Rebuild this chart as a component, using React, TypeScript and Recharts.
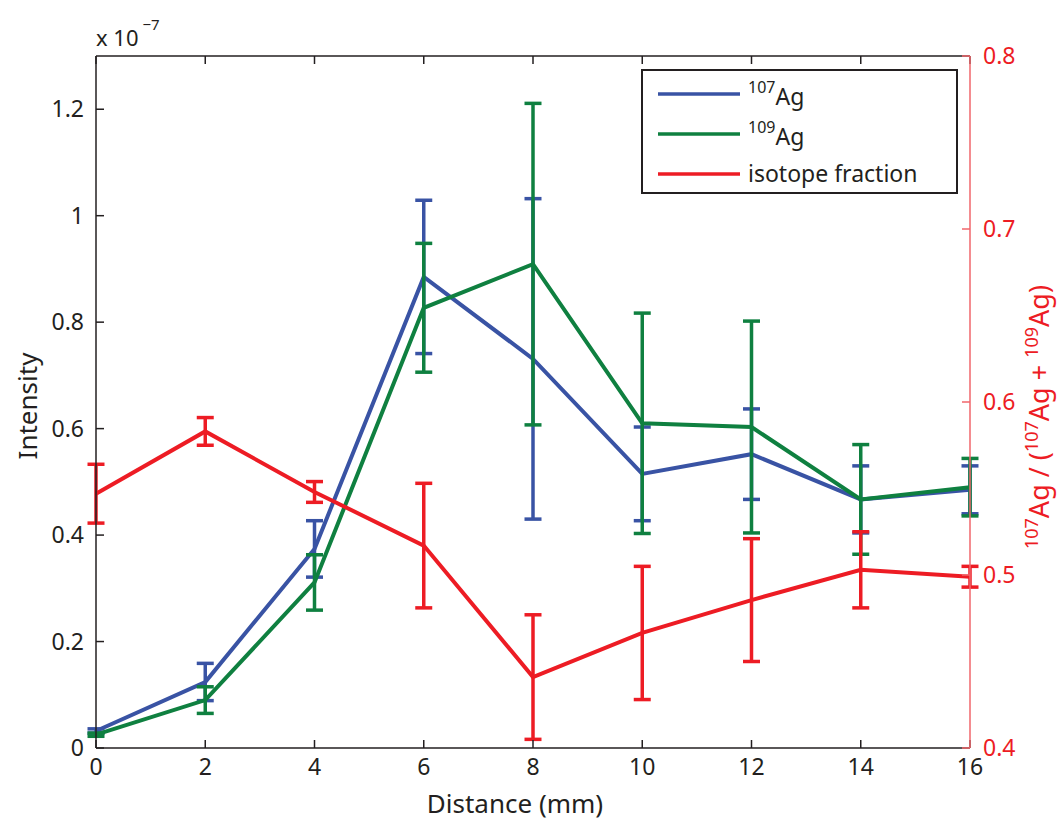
import React from 'react';
import {
  ComposedChart,
  XAxis,
  YAxis,
  Line,
  ErrorBar,
  Label,
} from 'recharts';

// Silver isotope intensities along the sample, with the 107Ag fraction on a second axis
const distance = [0, 2, 4, 6, 8, 10, 12, 14, 16];
const ag107 = [0.032, 0.124, 0.374, 0.885, 0.731, 0.515, 0.552, 0.467, 0.485];
const ag107Err = [0.004, 0.035, 0.053, 0.144, 0.301, 0.088, 0.085, 0.063, 0.045];
const ag109 = [0.025, 0.09, 0.311, 0.827, 0.909, 0.61, 0.603, 0.467, 0.49];
const ag109Err = [0.003, 0.025, 0.052, 0.121, 0.302, 0.207, 0.199, 0.103, 0.054];
const fraction = [0.547, 0.583, 0.548, 0.517, 0.441, 0.4665, 0.4855, 0.503, 0.499];
const fractionErr = [0.017, 0.008, 0.006, 0.036, 0.036, 0.0385, 0.0355, 0.022, 0.006];

const xTicks = [0, 2, 4, 6, 8, 10, 12, 14, 16];
const intensityTicks = [0, 0.2, 0.4, 0.6, 0.8, 1, 1.2];
const fractionTicks = [0.4, 0.5, 0.6, 0.7, 0.8];

const data = distance.map((d, i) => ({
  distance: d,
  ag107: ag107[i],
  ag107Err: ag107Err[i],
  ag109: ag109[i],
  ag109Err: ag109Err[i],
  fraction: fraction[i],
  fractionErr: fractionErr[i],
}));

const FONT = '"Noto Sans", "Open Sans", sans-serif';
const INK = '#231F20';
const BLUE = '#3953A4';
const GREEN = '#0F8040';
const RED = '#ED1C24';
const RED_AXIS = '#F0666B';

const legendRows = [
  { color: BLUE, sup: '107', text: 'Ag' },
  { color: GREEN, sup: '109', text: 'Ag' },
  { color: RED, sup: '', text: 'isotope fraction' },
];

// legend box drawn in svg so it does not take space from the plot
const renderLegend = () => (
  <g fontFamily={FONT}>
    <rect x={642} y={70} width={315} height={123} fill="#fff" stroke={INK} strokeWidth={2} />
    {legendRows.map((r, i) => {
      const y = 94 + i * 40;
      return (
        <g key={r.color}>
          <line x1={658} x2={740} y1={y} y2={y} stroke={r.color} strokeWidth={3.5} />
          {r.sup ? (
            <text x={748} y={y + 11} fill={INK} fontSize={23}>
              <tspan fontSize={16} dy={-12}>{r.sup}</tspan>
              <tspan dy={12}>{r.text}</tspan>
            </text>
          ) : (
            <text x={748} y={y + 8} fill={INK} fontSize={23}>
              {r.text}
            </text>
          )}
        </g>
      );
    })}
  </g>
);

const noTick = () => <g />;

// right axis: labels outside, tick marks pointing into the plot
const RIGHT_MARGIN = 13;
const renderRightTick = (p: any) => (
  <g>
    <line
      x1={p.x - RIGHT_MARGIN}
      x2={p.x - RIGHT_MARGIN - 8}
      y1={p.y}
      y2={p.y}
      stroke={RED_AXIS}
      strokeWidth={1.5}
    />
    <text x={p.x} y={p.y} dy="0.355em" textAnchor="start" fill={RED} fontSize={23} fontFamily={FONT}>
      {Number(p.payload.value).toFixed(1)}
    </text>
  </g>
);

export default function App() {
  return (
    <div style={{ position: 'absolute', left: 0, top: 0, background: '#fff' }}>
      <ComposedChart
        width={1060}
        height={820}
        data={data}
        margin={{ top: 55, right: 0, bottom: 0, left: 0 }}
      >
        <XAxis
          dataKey="distance"
          type="number"
          domain={[0, 16]}
          ticks={xTicks}
          stroke={INK}
          strokeWidth={1.5}
          tickSize={-8}
          tickMargin={19}
          height={72}
          tick={{ fill: INK, fontSize: 23, fontFamily: FONT }}
        >
          <Label
            content={() => (
              <text x={515} y={813} textAnchor="middle" fill={INK} fontSize={26} fontFamily={FONT}>
                Distance (mm)
              </text>
            )}
          />
        </XAxis>
        <XAxis
          xAxisId="top"
          dataKey="distance"
          type="number"
          orientation="top"
          domain={[0, 16]}
          ticks={xTicks}
          stroke={INK}
          strokeWidth={1.5}
          tickSize={-8}
          height={1}
          tick={noTick}
        >
          <Label content={renderLegend} />
        </XAxis>
        <YAxis
          yAxisId="left"
          domain={[0, 1.3]}
          ticks={intensityTicks}
          width={96}
          stroke={INK}
          strokeWidth={1.5}
          tickSize={-8}
          tickMargin={20}
          tickFormatter={(v: number) => String(Math.round(v * 10) / 10)}
          tick={{ fill: INK, fontSize: 23, fontFamily: FONT }}
        >
          <Label
            content={() => (
              <text
                x={37}
                y={406}
                transform="rotate(-90 37 406)"
                textAnchor="middle"
                fill={INK}
                fontSize={26}
                fontFamily={FONT}
              >
                Intensity
              </text>
            )}
          />
          <Label
            content={() => (
              <text x={96} y={46} fill={INK} fontSize={22} fontFamily={FONT}>
                x 10
                <tspan fontSize={15} dx={4} dy={-16}>
                  −7
                </tspan>
              </text>
            )}
          />
        </YAxis>
        <YAxis
          yAxisId="right"
          orientation="right"
          domain={[0.4, 0.8]}
          ticks={fractionTicks}
          width={90}
          stroke={RED_AXIS}
          strokeWidth={1.5}
          tickSize={0}
          tickLine={false}
          tickMargin={RIGHT_MARGIN}
          tick={renderRightTick}
        >
          <Label
            content={() => (
              <text
                x={1049}
                y={417}
                transform="rotate(-90 1049 417)"
                textAnchor="middle"
                fill={RED}
                fontSize={27}
                fontFamily={FONT}
              >
                <tspan fontSize={18} dy={-11}>107</tspan>
                <tspan dy={11}>Ag / (</tspan>
                <tspan fontSize={18} dy={-11}>107</tspan>
                <tspan dy={11}>Ag + </tspan>
                <tspan fontSize={18} dy={-11}>109</tspan>
                <tspan dy={11}>Ag)</tspan>
              </text>
            )}
          />
        </YAxis>
        <Line
          yAxisId="left"
          dataKey="ag107"
          stroke={BLUE}
          strokeWidth={4}
          dot={false}
          isAnimationActive={false}
        >
          <ErrorBar dataKey="ag107Err" width={8.5} stroke={BLUE} strokeWidth={3.5} isAnimationActive={false} />
        </Line>
        <Line
          yAxisId="left"
          dataKey="ag109"
          stroke={GREEN}
          strokeWidth={4}
          dot={false}
          isAnimationActive={false}
        >
          <ErrorBar dataKey="ag109Err" width={8.5} stroke={GREEN} strokeWidth={3.5} isAnimationActive={false} />
        </Line>
        <Line
          yAxisId="right"
          dataKey="fraction"
          stroke={RED}
          strokeWidth={4}
          dot={false}
          isAnimationActive={false}
        >
          <ErrorBar dataKey="fractionErr" width={8.5} stroke={RED} strokeWidth={3.5} isAnimationActive={false} />
        </Line>
      </ComposedChart>
    </div>
  );
}
